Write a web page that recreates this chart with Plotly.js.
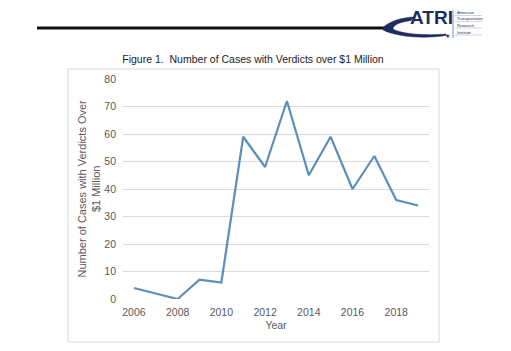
<!DOCTYPE html>
<html>
<head>
<meta charset="utf-8">
<script src="https://cdn.plot.ly/plotly-3.0.1.min.js"></script>
<style>html,body{margin:0;padding:0;background:#fff;}#chart{width:511px;height:351px;}</style>
</head>
<body>
<div id="chart"></div>
<script>
// Data
var years = [2006, 2007, 2008, 2009, 2010, 2011, 2012, 2013, 2014, 2015, 2016, 2017, 2018, 2019];
var cases = [4, 2, 0, 7, 6, 59, 48, 72, 45, 59, 40, 52, 36, 34];
var xTicks = [2006, 2008, 2010, 2012, 2014, 2016, 2018];
var yTicks = [0, 10, 20, 30, 40, 50, 60, 70, 80];
var titleText = "Figure 1.  Number of Cases with Verdicts over $1 Million";
var yTitle = "Number of Cases with Verdicts Over<br>$1 Million";
var xTitle = "Year";
var logoWords = ["American", "Transportation", "Research", "Institute"];

// plot area in pixels
var L = 123, R = 429, T = 79, B = 299;
var W = 511, H = 351;
function px(x){ return (x - L) / (R - L); }
function py(y){ return (B - y) / (B - T); }
function path(pts){
  return pts.map(function(p){
    var s = p[0];
    for (var i = 1; i < p.length; i += 2) {
      s += (i > 1 ? ' ' : '') + px(p[i]).toFixed(4) + ',' + py(p[i+1]).toFixed(4);
    }
    return s;
  }).join(' ') + ' Z';
}

var FONT = 'Liberation Sans, Arial';
var shapes = [
  {type:'rect', xref:'paper', yref:'paper', x0:px(68), x1:px(439), y0:py(342), y1:py(69),
   line:{color:'#d9d9d9', width:1}, fillcolor:'rgba(0,0,0,0)', layer:'below'},
  {type:'line', xref:'paper', yref:'paper', x0:px(37), x1:px(386), y0:py(28), y1:py(28),
   line:{color:'#111111', width:3}},
  {type:'path', xref:'paper', yref:'paper',
   path: path([['M',383,27.5],['C',390,21,402,17.5,414,17],['L',411,20.5],['C',400,22,393,25,393,29],
               ['C',402,34.5,428,35.5,446,34],['L',446,35.5],['C',425,39,396,37,383,30]]),
   fillcolor:'#1f2d5c', line:{color:'#1f2d5c', width:0.5}},
  {type:'line', xref:'paper', yref:'paper', x0:px(453), x1:px(453), y0:py(10), y1:py(38),
   line:{color:'#8a8fa8', width:1}}
];
[15.5, 21.5, 28, 35].forEach(function(yy){
  shapes.push({type:'line', xref:'paper', yref:'paper', x0:px(455), x1:px(482), y0:py(yy), y1:py(yy),
    line:{color:'#b5b9cc', width:0.6}});
});

var annotations = [
  {xref:'paper', yref:'paper', x:px(431), y:py(17), text:'<b>ATRI</b>', showarrow:false,
   xanchor:'center', yanchor:'middle', font:{family:FONT, size:19, color:'#1f2d5c'}},
  {xref:'paper', yref:'paper', x:px(447), y:py(35), text:'★', showarrow:false,
   xanchor:'center', yanchor:'middle', font:{family:'DejaVu Sans', size:6, color:'#1f2d5c'}},
  {xref:'paper', yref:'paper', x:px(88.5), y:py(189), text:yTitle, showarrow:false, textangle:-90,
   xanchor:'center', yanchor:'middle', font:{family:FONT, size:11, color:'#595959'}}
];
var wordY = [12.5, 18.5, 25, 32];
logoWords.forEach(function(w, i){
  annotations.push({xref:'paper', yref:'paper', x:px(455), y:py(wordY[i]), text:w, showarrow:false,
    xanchor:'left', yanchor:'middle', font:{family:FONT, size:4, color:'#1f2d5c'}});
});

var trace = {
  x: years, y: cases, type:'scatter', mode:'lines',
  line:{color:'#5b8fbb', width:2.2}, hoverinfo:'none'
};

var layout = {
  width: W, height: H,
  margin:{l:L, r:W-R, t:T, b:H-B, pad:0},
  paper_bgcolor:'#ffffff', plot_bgcolor:'#ffffff',
  showlegend:false,
  title:{text:titleText, x:253/W, xanchor:'center', y:1-59/H, yanchor:'middle', xref:'container', yref:'container',
         font:{family:FONT, size:10.5, color:'#222222'}},
  xaxis:{range:[2005.5, 2019.5], tickvals:xTicks, ticktext:xTicks.map(String), showgrid:false, zeroline:false,
         showline:false, ticks:'', ticklen:0, ticklabelstandoff:5,
         tickfont:{family:FONT, size:10.5, color:'#595959'},
         title:{text:xTitle, standoff:5, font:{family:FONT, size:10.5, color:'#595959'}},
         fixedrange:true},
  yaxis:{range:[0, 80], tickvals:yTicks, ticktext:yTicks.map(String), showgrid:true, gridcolor:'#d9d9d9', gridwidth:1,
         zeroline:false, showline:false, ticks:'', ticklabelstandoff:6,
         tickfont:{family:FONT, size:10.5, color:'#595959'},
         fixedrange:true},
  shapes: shapes,
  annotations: annotations
};

Plotly.newPlot('chart', [trace], layout, {displayModeBar:false, staticPlot:true});
</script>
</body>
</html>
